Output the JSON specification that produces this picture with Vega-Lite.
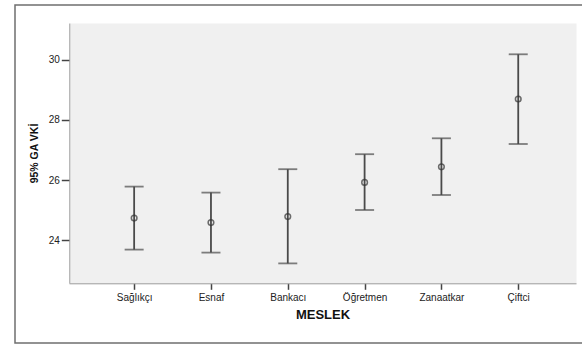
{
  "$schema": "https://vega.github.io/schema/vega-lite/v6.json",
  "width": 569,
  "height": 338,
  "autosize": "none",
  "padding": {"left": 15, "top": 5, "right": 0, "bottom": 4},
  "background": "white",
  "config": {
    "view": {"stroke": "#6f6f6f", "strokeWidth": 1.5, "fill": "white"},
    "font": "Liberation Sans"
  },
  "data": {
    "values": [
      {"meslek": "Sağlıkçı", "mean": 24.73, "lower": 23.68, "upper": 25.78},
      {"meslek": "Esnaf", "mean": 24.58, "lower": 23.58, "upper": 25.58},
      {"meslek": "Bankacı", "mean": 24.78, "lower": 23.22, "upper": 26.36},
      {"meslek": "Öğretmen", "mean": 25.92, "lower": 25.0, "upper": 26.86},
      {"meslek": "Zanaatkar", "mean": 26.44, "lower": 25.5, "upper": 27.39},
      {"meslek": "Çiftci", "mean": 28.7, "lower": 27.2, "upper": 30.19}
    ]
  },
  "encoding": {
    "x": {
      "field": "meslek",
      "type": "nominal",
      "sort": null,
      "scale": {"type": "point", "range": [54, 561], "padding": 0.8, "align": 0.53},
      "axis": {
        "orient": "bottom",
        "offset": -59.7,
        "tickSize": 6,
        "tickColor": "#444444",
        "tickWidth": 1.5,
        "domainColor": "#9a9a9a",
        "domainWidth": 1,
        "labelFont": "Liberation Sans",
        "labelFontSize": 10,
        "labelColor": "#222222",
        "labelPadding": 3,
        "labelAngle": 0,
        "title": "MESLEK",
        "titleFont": "Liberation Sans",
        "titleFontSize": 13,
        "titleFontWeight": "bold",
        "titleColor": "#111111",
        "titlePadding": 6,
        "grid": false,
        "zindex": 1
      }
    }
  },
  "layer": [
    {
      "mark": {"type": "rule", "stroke": "#4a4a4a", "strokeWidth": 1.8},
      "encoding": {
        "y": {
          "field": "lower",
          "type": "quantitative",
          "scale": {"domain": [22.5667, 31.2333], "range": [278, 18], "nice": false, "zero": false},
          "axis": {
            "orient": "left",
            "offset": -54.3,
            "values": [24, 26, 28, 30],
            "tickSize": 8,
            "tickColor": "#444444",
            "tickWidth": 1.5,
            "domainColor": "#9a9a9a",
            "domainWidth": 1,
            "labelFont": "Liberation Sans",
            "labelFontSize": 10,
            "labelColor": "#222222",
            "labelPadding": 2,
            "title": "95% GA VKİ",
            "titleFont": "Liberation Sans",
            "titleFontSize": 10.5,
            "titleFontWeight": "bold",
            "titleColor": "#111111",
            "titlePadding": 9,
            "grid": false,
            "zindex": 1
          }
        },
        "y2": {"field": "upper"}
      }
    },
    {
      "mark": {"type": "tick", "color": "#4a4a4a", "size": 19, "thickness": 1.8},
      "encoding": {
        "y": {
          "field": "upper",
          "type": "quantitative",
          "scale": {"domain": [22.5667, 31.2333], "range": [278, 18], "nice": false, "zero": false},
          "axis": null
        }
      }
    },
    {
      "mark": {"type": "tick", "color": "#4a4a4a", "size": 19, "thickness": 1.8},
      "encoding": {
        "y": {
          "field": "lower",
          "type": "quantitative",
          "scale": {"domain": [22.5667, 31.2333], "range": [278, 18], "nice": false, "zero": false},
          "axis": null
        }
      }
    },
    {
      "mark": {"type": "point", "shape": "circle", "filled": false, "size": 32, "stroke": "#333333", "strokeWidth": 1.5},
      "encoding": {
        "y": {
          "field": "mean",
          "type": "quantitative",
          "scale": {"domain": [22.5667, 31.2333], "range": [278, 18], "nice": false, "zero": false},
          "axis": {
            "orient": "left",
            "offset": -308,
            "domainColor": "#f0f0f0",
            "domainWidth": 506,
            "ticks": false,
            "labels": false,
            "title": null,
            "grid": false,
            "zindex": 0
          }
        }
      }
    }
  ],
  "resolve": {"axis": {"y": "independent"}}
}
